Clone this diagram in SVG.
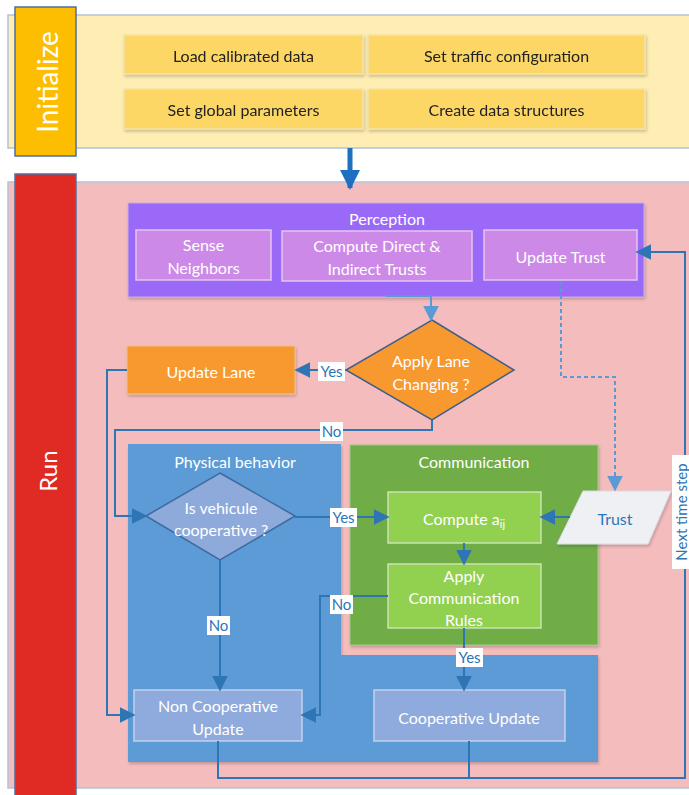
<svg xmlns="http://www.w3.org/2000/svg" width="689" height="795" viewBox="0 0 689 795">
<defs>
<style>
text{font-family:Lato,"Open Sans","Liberation Sans",sans-serif;fill:#fff;text-anchor:middle;dominant-baseline:central}
.t16{font-size:16px}
.t15{font-size:15px}
.dk{fill:#222}
.lbl{fill:#2e75b6;font-size:15px}
.c{fill:none;stroke:#2e75b6;stroke-width:2}
.cl{fill:none;stroke:#5b9bd5;stroke-width:2}
.ib{fill:#fdd766;stroke:#f4e2a8;stroke-width:1.5}
.pb{fill:#cd89e8;stroke:#e4c4f0;stroke-width:1.5}
.gb{fill:#92d050;stroke:#c9e3b2;stroke-width:1.5}
.bb{fill:#8faadc;stroke:#c4d0ea;stroke-width:1.5}
</style>
<marker id="ahb" viewBox="0 0 10 10" refX="9" refY="5" markerWidth="20" markerHeight="20" orient="auto" markerUnits="userSpaceOnUse">
<path d="M0,0 L10,5 L0,10 z" fill="#1f6fc0"/>
</marker>
<marker id="ahl" viewBox="0 0 10 10" refX="9" refY="5" markerWidth="16" markerHeight="16" orient="auto" markerUnits="userSpaceOnUse">
<path d="M0,0 L10,5 L0,10 z" fill="#5b9bd5"/>
</marker>
<marker id="ahc" viewBox="0 0 10 10" refX="9" refY="5" markerWidth="16" markerHeight="16" orient="auto" markerUnits="userSpaceOnUse">
<path d="M0,0 L10,5 L0,10 z" fill="#2e75b6"/>
</marker>
<filter id="sh" x="-10%" y="-10%" width="130%" height="140%">
<feDropShadow dx="1" dy="2" stdDeviation="1.5" flood-color="#000" flood-opacity="0.2"/>
</filter>
</defs>

<g id="initialize">
<rect x="8" y="15" width="690" height="133" fill="#feeeb3" stroke="#b4c2d6" stroke-width="1.5"/>
<rect x="15" y="7" width="61" height="149" fill="#fdbd00" stroke="#4f6fa0" stroke-width="1.5"/>
<text x="47" y="82" font-size="28" transform="rotate(-90 47 82)">Initialize</text>
</g>
<g id="load-data" filter="url(#sh)"><rect class="ib" x="124" y="35" width="239" height="39"/><text class="t16 dk" x="243.5" y="55">Load calibrated data</text></g>
<g id="traffic-config" filter="url(#sh)"><rect class="ib" x="368" y="35" width="277" height="39"/><text class="t16 dk" x="506.5" y="55">Set traffic configuration</text></g>
<g id="global-params" filter="url(#sh)"><rect class="ib" x="124" y="89" width="239" height="40"/><text class="t16 dk" x="243.5" y="109">Set global parameters</text></g>
<g id="data-structures" filter="url(#sh)"><rect class="ib" x="368" y="89" width="277" height="40"/><text class="t16 dk" x="506.5" y="109">Create data structures</text></g>

<g id="run">
<rect x="8" y="182" width="690" height="606" fill="#f5bcbd" stroke="#b4c2d6" stroke-width="1.5"/>
<rect x="15" y="174" width="61" height="630" fill="#e02a24" stroke="#4f6fa0" stroke-width="1.5"/>
<text x="47" y="471" font-size="24" transform="rotate(-90 47 471)">Run</text>
</g>

<g id="perception">
<rect x="128" y="203" width="516" height="94" fill="#9b69f8" stroke="#c0b0e0" stroke-width="1" filter="url(#sh)"/>
<text class="t16" x="387" y="218">Perception</text>
</g>
<g id="sense-neighbors"><rect class="pb" x="136" y="230" width="135" height="50"/><text class="t16" x="203.5" y="244">Sense</text><text class="t16" x="203.5" y="267">Neighbors</text></g>
<g id="compute-trusts"><rect class="pb" x="282" y="231" width="190" height="50"/><text class="t16" x="377" y="245">Compute Direct &amp;</text><text class="t16" x="377" y="268">Indirect Trusts</text></g>
<g id="update-trust"><rect class="pb" x="484" y="230" width="153" height="50"/><text class="t16" x="560.5" y="256">Update Trust</text></g>

<g id="lane-decision"><polygon points="432,320 514,370 432,420 346,370" fill="#f7992f" stroke="#3d5f8c" stroke-width="1.5"/><text class="t16" x="431" y="360">Apply Lane</text><text class="t16" x="431" y="383">Changing ?</text></g>
<g id="update-lane"><rect x="127" y="346" width="168" height="48" fill="#f7992f" stroke="#f0c090" stroke-width="1" filter="url(#sh)"/><text class="t16" x="211" y="371">Update Lane</text></g>

<g id="physical-behavior">
<path d="M128,444 H341 V655 H598 V762 H128 Z" fill="#5b9bd5" filter="url(#sh)"/>
<text class="t16" x="235" y="461">Physical behavior</text>
</g>
<g id="communication">
<rect x="350" y="445" width="248" height="200" fill="#70ad47" stroke="#9fc98a" stroke-width="1" filter="url(#sh)"/>
<text class="t16" x="474" y="461">Communication</text>
</g>
<g id="coop-decision"><polygon points="220,473 295,516 220,560 146,516" fill="#8eaadb" stroke="#3d6aa0" stroke-width="1.5"/><text class="t16" x="221" y="507">Is vehicule</text><text class="t16" x="221" y="529">cooperative ?</text></g>
<g id="compute-aij"><rect class="gb" x="388" y="492" width="153" height="51"/><text class="t16" x="464" y="518">Compute a<tspan font-size="11" dy="5">ij</tspan></text></g>
<g id="apply-rules"><rect class="gb" x="388" y="564" width="153" height="64"/><text class="t16" x="464" y="575">Apply</text><text class="t16" x="464" y="597">Communication</text><text class="t16" x="464" y="619">Rules</text></g>
<g id="trust"><polygon points="583,491 671,491 648,544 557,544" fill="#eef0f3" stroke="#d8dde4" stroke-width="1" filter="url(#sh)"/><text class="t16" x="615" y="518" style="fill:#2e75b6">Trust</text></g>
<g id="non-coop-update"><rect class="bb" x="134" y="690" width="168" height="51"/><text class="t16" x="218" y="705">Non Cooperative</text><text class="t16" x="218" y="728">Update</text></g>
<g id="coop-update"><rect class="bb" x="374" y="690" width="191" height="51"/><text class="t16" x="469" y="717">Cooperative Update</text></g>

<g id="connectors">
<line x1="350" y1="148" x2="350" y2="188" stroke="#1f6fc0" stroke-width="5" marker-end="url(#ahb)"/>
<path class="cl" d="M386,296 H431 V320" marker-end="url(#ahl)"/>
<path class="c" d="M346,370 H296" marker-end="url(#ahc)"/>
<path class="c" d="M127,370 H107 V715 H134" marker-end="url(#ahc)"/>
<path class="c" d="M432,420 V430 H115 V516 H146" marker-end="url(#ahc)"/>
<path class="c" d="M295,517 H388" marker-end="url(#ahc)"/>
<path class="c" d="M220,560 V690" marker-end="url(#ahc)"/>
<path class="c" d="M464,543 V564" marker-end="url(#ahc)"/>
<path class="c" d="M388,596 H320 V715 H302" marker-end="url(#ahc)"/>
<path class="c" d="M464,628 V690" marker-end="url(#ahc)"/>
<path class="c" d="M570,517 H541" marker-end="url(#ahc)"/>
<path class="cl" d="M561,281 V377 H615 V490" stroke-dasharray="4,3" marker-end="url(#ahl)"/>
<path class="c" d="M218,741 V778 H685 V252 H637" marker-end="url(#ahc)"/>
<path class="c" d="M469,741 V778"/>
<rect x="318" y="362" width="27" height="19" fill="#fff"/><text class="lbl" x="331.5" y="371">Yes</text>
<rect x="320" y="422" width="23" height="19" fill="#fff"/><text class="lbl" x="331.5" y="431">No</text>
<rect x="330" y="508" width="27" height="19" fill="#fff"/><text class="lbl" x="343.5" y="517">Yes</text>
<rect x="207" y="616" width="23" height="19" fill="#fff"/><text class="lbl" x="218.5" y="625">No</text>
<rect x="330" y="595" width="23" height="19" fill="#fff"/><text class="lbl" x="341.5" y="604">No</text>
<rect x="456" y="648" width="27" height="19" fill="#fff"/><text class="lbl" x="469.5" y="657">Yes</text>
<rect x="672" y="455" width="17" height="114" fill="#fff"/><text class="lbl" x="680.5" y="512" font-size="14" transform="rotate(-90 680.5 512)">Next time step</text>
</g>
</svg>
